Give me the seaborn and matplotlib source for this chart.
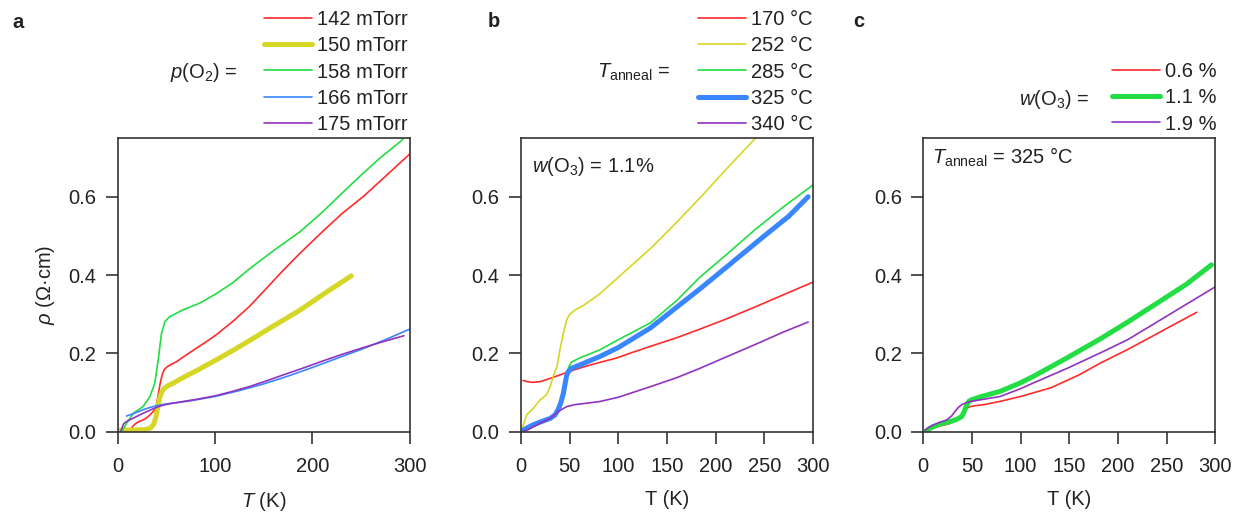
import matplotlib
matplotlib.use("Agg")
import matplotlib.pyplot as plt
import seaborn as sns

# ---------------- panel a: O2 partial pressure ----------------
a_labels = ["142 mTorr", "150 mTorr", "158 mTorr", "166 mTorr", "175 mTorr"]

a_T_142 = [11, 15, 18, 22, 26, 30, 34, 38, 40, 42, 44, 46, 48, 51, 55, 60, 67, 80,
           90, 101, 118, 135, 152, 170, 187, 210, 230, 253, 275, 300]
a_r_142 = [0.0, 0.012, 0.020, 0.026, 0.030, 0.036, 0.045, 0.056, 0.072, 0.100, 0.128,
           0.148, 0.159, 0.166, 0.172, 0.178, 0.190, 0.212, 0.228, 0.247, 0.281, 0.319,
           0.364, 0.412, 0.455, 0.510, 0.556, 0.602, 0.652, 0.709]

a_T_150 = [3, 15, 25, 30, 34, 37, 39, 41, 43, 45, 47, 49, 52, 57, 67, 84, 101, 118,
           135, 160, 187, 210, 240]
a_r_150 = [0.004, 0.004, 0.005, 0.006, 0.010, 0.019, 0.035, 0.060, 0.085, 0.100, 0.108,
           0.113, 0.118, 0.124, 0.138, 0.160, 0.183, 0.207, 0.232, 0.270, 0.310, 0.349,
           0.398]

a_T_158 = [4, 9, 16, 26, 33, 38, 41.6, 45, 48.5, 53.6, 67, 84, 101, 118, 135, 161,
           187, 210, 230, 250, 270, 290, 300]
a_r_158 = [0.0, 0.021, 0.047, 0.064, 0.089, 0.123, 0.183, 0.251, 0.281, 0.294, 0.311,
           0.328, 0.352, 0.380, 0.415, 0.464, 0.510, 0.560, 0.608, 0.655, 0.700, 0.740,
           0.765]

a_T_166 = [9, 15, 20, 26, 32, 38, 43, 50, 60, 75, 100, 125, 150, 175, 200, 225, 250,
           275, 300]
a_r_166 = [0.040, 0.045, 0.050, 0.056, 0.061, 0.065, 0.068, 0.071, 0.074, 0.079, 0.090,
           0.105, 0.122, 0.142, 0.164, 0.187, 0.210, 0.235, 0.262]

a_T_175 = [3, 6, 9, 13, 18, 26, 35, 42, 47, 55, 67, 84, 101, 118, 135, 152, 170, 190,
           210, 230, 250, 270, 294]
a_r_175 = [0.0, 0.020, 0.026, 0.031, 0.037, 0.047, 0.057, 0.064, 0.068, 0.072, 0.077,
           0.084, 0.092, 0.103, 0.115, 0.129, 0.145, 0.162, 0.180, 0.197, 0.213, 0.228,
           0.245]

# ---------------- panel b: annealing temperature ----------------
b_labels = ["170 °C", "252 °C", "285 °C", "325 °C", "340 °C"]

b_T_170 = [2, 6, 12, 20, 30, 40, 50, 65, 81, 98, 115, 133, 160, 184, 210, 240, 270, 300]
b_r_170 = [0.131, 0.128, 0.126, 0.128, 0.136, 0.145, 0.154, 0.166, 0.177, 0.188, 0.203,
           0.218, 0.240, 0.262, 0.287, 0.318, 0.350, 0.382]

b_T_252 = [0.7, 2.4, 5.8, 12.7, 19.5, 26, 30, 33, 37, 40, 43.5, 47, 50, 57, 64, 81, 98,
           116, 134, 160, 185, 210, 241, 260]
b_r_252 = [0.004, 0.017, 0.043, 0.060, 0.081, 0.094, 0.115, 0.141, 0.167, 0.209, 0.252,
           0.286, 0.300, 0.313, 0.322, 0.352, 0.390, 0.430, 0.470, 0.535, 0.600, 0.668,
           0.750, 0.800]

b_T_285 = [2, 8, 15, 22, 30, 36, 40, 43, 45, 47, 49, 52, 60, 81, 100, 133, 160, 184,
           210, 240, 270, 300]
b_r_285 = [0.0, 0.008, 0.016, 0.024, 0.034, 0.045, 0.055, 0.080, 0.110, 0.145, 0.165,
           0.178, 0.188, 0.209, 0.235, 0.278, 0.335, 0.395, 0.450, 0.515, 0.575, 0.630]

b_T_325 = [0, 5, 12, 20, 30, 35, 38, 41, 43.5, 45.5, 47, 49, 52, 60, 81, 100, 133, 160,
           184, 210, 250, 275, 295]
b_r_325 = [0.0, 0.008, 0.017, 0.025, 0.034, 0.043, 0.056, 0.075, 0.098, 0.125, 0.145,
           0.155, 0.162, 0.170, 0.192, 0.215, 0.265, 0.318, 0.365, 0.418, 0.500, 0.550,
           0.600]

b_T_340 = [2, 8, 13, 20, 30, 38, 44, 47, 55, 65, 81, 100, 133, 160, 184, 210, 240, 270,
           295]
b_r_340 = [0.0, 0.006, 0.013, 0.022, 0.034, 0.051, 0.060, 0.064, 0.069, 0.072, 0.077,
           0.088, 0.115, 0.138, 0.162, 0.190, 0.222, 0.255, 0.280]

# ---------------- panel c: ozone fraction ----------------
c_labels = ["0.6 %", "1.1 %", "1.9 %"]

c_T_06 = [5, 10, 18, 27.5, 34, 39.6, 42, 44.8, 48, 55, 62, 80, 100, 131, 160, 182.5,
          210, 240, 260, 281]
c_r_06 = [0.004, 0.009, 0.015, 0.021, 0.030, 0.043, 0.052, 0.060, 0.064, 0.067, 0.069,
          0.078, 0.090, 0.112, 0.145, 0.176, 0.210, 0.250, 0.277, 0.305]

c_T_11 = [2, 6, 10, 18, 27.5, 34, 39.6, 42, 44.8, 47, 50, 60, 79, 100, 113.6, 148,
          182.5, 210, 240, 270, 296]
c_r_11 = [0.0, 0.007, 0.013, 0.020, 0.026, 0.031, 0.039, 0.052, 0.069, 0.078, 0.082,
          0.090, 0.103, 0.125, 0.142, 0.189, 0.238, 0.280, 0.328, 0.376, 0.426]

c_T_19 = [1.7, 5, 10, 17, 24, 29, 32.7, 36, 39.6, 44, 48, 60, 79, 100, 113.6, 148,
          182.5, 210, 240, 270, 300]
c_r_19 = [0.004, 0.010, 0.017, 0.024, 0.030, 0.040, 0.052, 0.062, 0.069, 0.074, 0.077,
          0.082, 0.090, 0.110, 0.125, 0.162, 0.202, 0.235, 0.280, 0.325, 0.370]

# ---------------- styling ----------------
RED, YEL, GRN, BLU, PUR = "#ff2b2b", "#d6d626", "#22dd44", "#3a86ff", "#9033c0"
INK = "#222222"
THIN, THICK = 1.2, 3.6

sns.set_theme(style="ticks")
plt.rcParams["font.family"] = ["Liberation Sans", "DejaVu Sans"]
plt.rcParams["mathtext.fontset"] = "custom"
plt.rcParams["mathtext.rm"] = "Liberation Sans"
plt.rcParams["mathtext.it"] = "Liberation Sans:italic"
plt.rcParams["mathtext.bf"] = "Liberation Sans:bold"
plt.rcParams["text.color"] = INK
plt.rcParams["axes.labelcolor"] = INK

FS = 14.5
W, H = 1239, 513
fig = plt.figure(figsize=(W / 100, H / 100), dpi=100)


def px(x, y):
    return x / W, 1 - y / H


panels = [
    dict(left=117.7, series=[
        (a_labels[0], a_T_142, a_r_142, RED, THIN),
        (a_labels[1], a_T_150, a_r_150, YEL, THICK),
        (a_labels[2], a_T_158, a_r_158, GRN, THIN),
        (a_labels[3], a_T_166, a_r_166, BLU, THIN),
        (a_labels[4], a_T_175, a_r_175, PUR, THIN),
    ], order=a_labels, xticks=[0, 100, 200, 300], xlabel="$T$ (K)"),
    dict(left=521.0, series=[
        (b_labels[0], b_T_170, b_r_170, RED, THIN),
        (b_labels[1], b_T_252, b_r_252, YEL, THIN),
        (b_labels[2], b_T_285, b_r_285, GRN, THIN),
        (b_labels[3], b_T_325, b_r_325, BLU, THICK),
        (b_labels[4], b_T_340, b_r_340, PUR, THIN),
    ], order=b_labels, xticks=list(range(0, 301, 50)), xlabel="T (K)"),
    dict(left=923.3, series=[
        (c_labels[0], c_T_06, c_r_06, RED, THIN),
        (c_labels[1], c_T_11, c_r_11, GRN, THICK),
        (c_labels[2], c_T_19, c_r_19, PUR, THIN),
    ], order=c_labels, xticks=list(range(0, 301, 50)), xlabel="T (K)"),
]

axes = []
for p in panels:
    ax = fig.add_axes([p["left"] / W, (H - 431.7) / H, 292 / W, 293.7 / H])
    for lab, T, r, col, lw in p["series"]:
        sns.lineplot(x=T, y=r, ax=ax, color=col, linewidth=lw, label=lab,
                     legend=False, sort=False, estimator=None)
    ax.set_xlim(0, 300)
    ax.set_ylim(0, 0.75)
    ax.set_xticks(p["xticks"])
    ax.set_yticks([0, 0.2, 0.4, 0.6])
    ax.set_yticklabels(["0.0", "0.2", "0.4", "0.6"])
    for s in ax.spines.values():
        s.set_visible(True)
        s.set_color("#333333")
        s.set_linewidth(1.2)
    ax.tick_params(direction="out", length=8.5, width=1.2, color="#333333",
                   labelsize=FS, labelcolor=INK, top=False, right=False)
    ax.tick_params(axis="x", pad=10)
    ax.tick_params(axis="y", pad=7)
    ax.set_xlabel(p["xlabel"], fontsize=FS, labelpad=10)
    ax.set_ylabel("")
    axes.append(ax)

axes[0].set_ylabel(r"$\rho$ (Ω·cm)", fontsize=FS, labelpad=8)

# legends placed above each panel
legend_anchor = [(264, 10), (698, 10), (1112, 62)]
for ax, p, (lx, ly) in zip(axes, panels, legend_anchor):
    h, l = ax.get_legend_handles_labels()
    lookup = dict(zip(l, h))
    ax.legend([lookup[k] for k in p["order"]], p["order"], loc="upper left",
              bbox_to_anchor=px(lx, ly), bbox_transform=fig.transFigure,
              frameon=False, fontsize=FS, handlelength=2.39, handletextpad=0.25,
              labelspacing=0.36, borderpad=0, borderaxespad=0, labelcolor=INK)

# legend prefixes
fig.text(*px(238, 77.5), "$p$(O$_2$) =", ha="right", va="baseline", fontsize=FS)
fig.text(*px(670, 77.3), r"$T_\mathrm{anneal}$ =", ha="right", va="baseline", fontsize=FS)
fig.text(*px(1090, 105), "$w$(O$_3$) =", ha="right", va="baseline", fontsize=FS)

# in-panel notes
fig.text(*px(531.7, 171.7), "$w$(O$_3$) = 1.1%", ha="left", va="baseline", fontsize=FS)
fig.text(*px(931.7, 163.3), r"$T_\mathrm{anneal}$ = 325 °C", ha="left", va="baseline",
         fontsize=FS)

# panel letters
for (x, y), s in zip([(12, 28), (488, 27), (853, 27)], "abc"):
    fig.text(*px(x, y), s, ha="left", va="baseline", fontsize=FS, fontweight="bold")

fig.savefig("out.png", dpi=100)
